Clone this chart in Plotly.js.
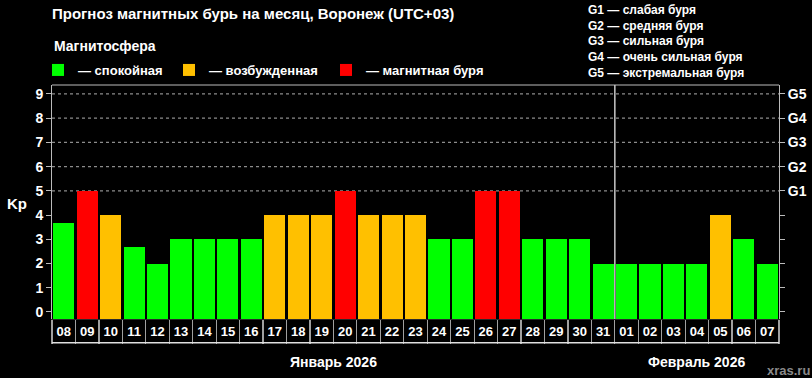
<!DOCTYPE html>
<html>
<head>
<meta charset="utf-8">
<script src="https://cdn.plot.ly/plotly-3.0.1.min.js"></script>
<style>
html,body{margin:0;padding:0;background:#000;}
#chart{width:812px;height:378px;}
</style>
</head>
<body>
<div id="chart"></div>
<script>
// ---- data ----
const dates = ['08','09','10','11','12','13','14','15','16','17','18','19','20','21','22','23','24','25','26','27','28','29','30','31','01','02','03','04','05','06','07'];
const kp    = [3.67,5,4,2.67,2,3,3,3,3,4,4,4,5,4,4,4,3,3,5,5,3,3,3,2,2,2,2,2,4,3,2];
const monthNames = ['Январь 2026','Февраль 2026'];
const stateNames = ['— спокойная','— возбужденная','— магнитная буря'];
const stateColors = ['#00ff00','#ffc000','#ff0000'];
const kpTicks = [0,1,2,3,4,5,6,7,8,9];
const gLabels = ['G1','G2','G3','G4','G5'];
const gKp = [5,6,7,8,9];
const gDescriptions = ['слабая буря','средняя буря','сильная буря','очень сильная буря','экстремальная буря'];
const titleText = 'Прогноз магнитных бурь на месяц, Воронеж (UTC+03)';
const legendTitle = 'Магнитосфера';
const watermark = 'xras.ru';

// ---- geometry helpers ----
const W = 812, H = 378;
const L = 52, R = 779, T = 83, B = 319;
const pw = R - L, ph = B - T;
const px2x = p => (p - L) / pw;
const py2y = p => (B - p) / ph;
const FONT = 'Liberation Sans, Arial, sans-serif';
const bold = (size, color) => ({family: FONT, size: size, color: color || '#ffffff', weight: 'bold'});

const yMin = -0.29, yMax = 9.37;
const xi = dates.map((_, i) => i);
const stateOf = v => v >= 5 ? 2 : (v >= 4 ? 1 : 0);

// month segments
const monthStarts = [0];
dates.forEach((d, i) => { if (i > 0 && d === '01') monthStarts.push(i); });
const monthEnds = monthStarts.map((s, k) => (k + 1 < monthStarts.length ? monthStarts[k + 1] - 1 : dates.length - 1));

const legendIds = ['legend', 'legend2', 'legend3'];
const traces = stateNames.map((name, s) => {
  const idx = xi.filter(i => stateOf(kp[i]) === s);
  return {
    type: 'bar', x: idx, y: idx.map(i => kp[i] - yMin), base: yMin,
    width: 0.9, marker: {color: stateColors[s], line: {width: 0}},
    name: name, legend: legendIds[s], hoverinfo: 'skip'
  };
});
traces.push({type:'scatter', x:[], y:[], xaxis:'x2', yaxis:'y2', showlegend:false});

const legendX = [38, 169, 326];
const legendCommon = (px) => ({
  orientation: 'h', xref: 'container', yref: 'container',
  x: px / W, xanchor: 'left', y: 1 - 70 / H, yanchor: 'middle',
  bgcolor: 'rgba(0,0,0,0)', font: bold(13), itemclick: false, itemdoubleclick: false
});

const annotations = [];
annotations.push({xref:'paper', yref:'paper', x: px2x(52), y: py2y(44), xanchor:'left', yanchor:'middle',
  text: legendTitle, showarrow:false, font: bold(14)});
gLabels.forEach((g, k) => {
  annotations.push({xref:'paper', yref:'paper', x: px2x(586), y: py2y(7 + 16 * k), xanchor:'left', yanchor:'middle',
    text: g + ' — ' + gDescriptions[k], showarrow:false, font: bold(12)});
});
annotations.push({xref:'paper', yref:'y', x: 0, y: 4.46, xanchor:'right', yanchor:'middle', xshift: -23,
  text:'Kp', showarrow:false, font: bold(15)});
monthNames.forEach((m, k) => {
  annotations.push({xref:'x', yref:'paper', x: (monthStarts[k] + monthEnds[k]) / 2, y: py2y(362),
    xanchor:'center', yanchor:'middle', text: m, showarrow:false, font: bold(14)});
});
annotations.push({xref:'paper', yref:'paper', x: 1, xshift: 33, y: py2y(371), xanchor:'right', yanchor:'middle',
  text: watermark, showarrow:false, font: bold(13, '#8a8a8a')});

const shapes = [];
// storm-level grid lines (G1..G5)
gKp.forEach(v => {
  shapes.push({type:'line', layer:'between', xref:'paper', yref:'y', x0:0, x1:1, y0:v, y1:v,
    line:{color:'#8c8c8c', width:1.2, dash:'3px,3px'}});
});
// top frame edge
shapes.push({type:'line', xref:'paper', yref:'paper', x0:0, x1:1, y0:1, y1:1,
  line:{color:'#bbbbbb', width:1}});
// bottom line of the date row
shapes.push({type:'line', xref:'paper', yref:'paper', x0:0, x1:1, y0: py2y(343), y1: py2y(343),
  line:{color:'#e0e0e0', width:1.5}});
monthStarts.slice(1).forEach(s => {
  shapes.push({type:'line', xref:'x', yref:'paper', x0: s - 0.5, x1: s - 0.5, y0: 0, y1: 1,
    line:{color:'#c8c8c8', width:1.5}});
});

const layout = {
  width: W, height: H,
  margin: {l: L, r: W - R, t: T, b: H - B, pad: 0},
  paper_bgcolor: '#000000', plot_bgcolor: '#000000',
  font: bold(13),
  title: {text: titleText, xref:'container', yref:'container', x: 52 / W, xanchor:'left',
    y: 1 - 14 / H, yanchor:'middle', font: bold(15)},
  barmode: 'overlay', bargap: 0,
  showlegend: true,
  legend: legendCommon(legendX[0]),
  legend2: legendCommon(legendX[1]),
  legend3: legendCommon(legendX[2]),
  xaxis: {range:[-0.5, dates.length - 0.5], tickvals: xi, ticktext: dates, ticks:'',
    showgrid:false, zeroline:false, showline:true, linecolor:'#2a2a2a', linewidth:1,
    tickfont: bold(13), fixedrange:true},
  xaxis2: {overlaying:'x', anchor:'y', side:'bottom', range:[-0.5, dates.length - 0.5],
    tickvals: xi.map(i => i - 0.5).concat([dates.length - 0.5]), ticks:'outside', ticklen: 24,
    tickcolor:'#a0a0a0', tickwidth:1.2, showticklabels:false, showgrid:false, zeroline:false, showline:false},
  yaxis: {range:[yMin, yMax], tickmode:'array', tickvals: kpTicks, ticks:'outside', ticklen:5, tickcolor:'#bbbbbb',
    showgrid:false, zeroline:false, showline:true, mirror:true, linecolor:'#bbbbbb', linewidth:1,
    tickfont: bold(14), fixedrange:true},
  yaxis2: {overlaying:'y', side:'right', range:[yMin, yMax], tickmode:'array', tickvals: kpTicks,
    ticktext: kpTicks.map(v => { const k = gKp.indexOf(v); return k >= 0 ? gLabels[k] : ''; }),
    ticks:'outside', ticklen:5, tickcolor:'#bbbbbb', showgrid:false, zeroline:false, showline:false,
    tickfont: bold(14)},
  annotations: annotations,
  shapes: shapes
};

Plotly.newPlot('chart', traces, layout, {displayModeBar:false, staticPlot:true});
</script>
</body>
</html>
